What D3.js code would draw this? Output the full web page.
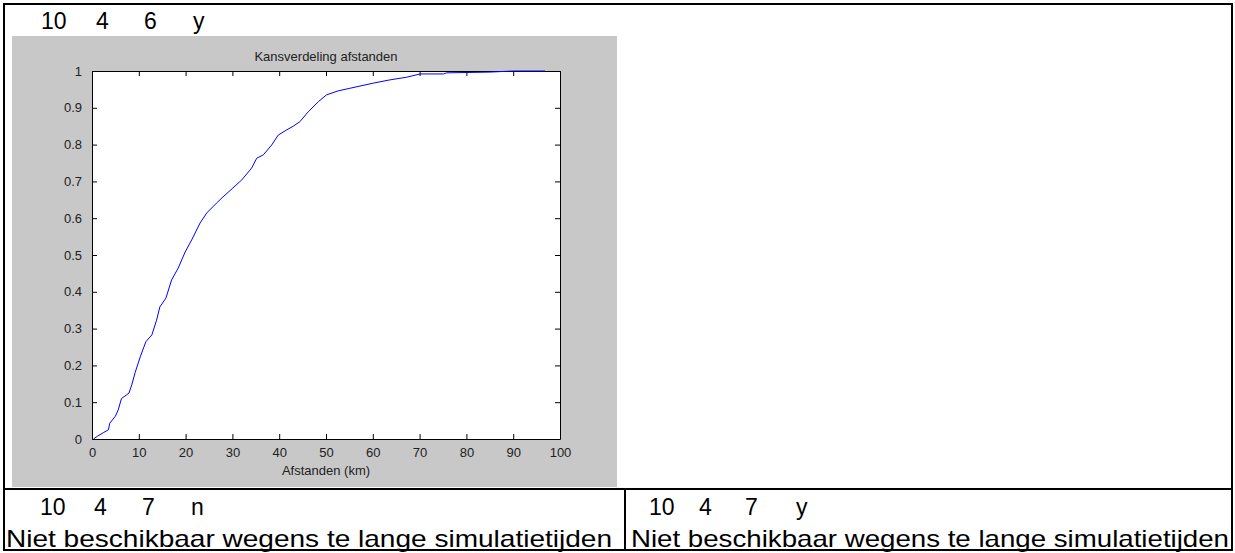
<!DOCTYPE html>
<html>
<head>
  <title>Kansverdeling afstanden</title>
  <style>
    body { margin: 0; background: #fff; }
    svg { display: block; }
  </style>
</head>
<body>
  <div id="chart"></div>

  <script src="https://d3js.org/d3.v7.min.js"></script>
  <script>
    const afstanden = [0.3, 1.2, 2.4, 3.5, 3.8, 5.0, 5.6, 6.3, 7.4, 7.9, 8.5, 9.2, 10.3, 11.5, 12.8, 13.8, 14.5, 15.8, 17.0, 18.4, 19.9,
      21.3, 23.1, 24.5, 26.6, 28.0, 30.1, 32.0, 34.1, 35.2, 36.6, 38.4, 39.8, 41.6, 43.0, 44.4, 46.2, 48.4, 50.1,
      52.6, 55.1, 60.1, 63.7, 67.2, 70.1, 75.1, 75.8, 85.0, 90.0, 96.8];
    const kans = [0, 0.008, 0.017, 0.025, 0.043, 0.062, 0.079, 0.11, 0.12, 0.125, 0.147, 0.18, 0.223, 0.264, 0.283, 0.323, 0.359, 0.383, 0.432, 0.464, 0.508,
      0.541, 0.587, 0.614, 0.641, 0.658, 0.682, 0.704, 0.736, 0.763, 0.772, 0.799, 0.826, 0.84, 0.85, 0.862, 0.889, 0.917, 0.935,
      0.946, 0.953, 0.967, 0.976, 0.983, 0.992, 0.992, 0.995, 0.997, 1.0, 1.0];

    const xTicks = [0, 10, 20, 30, 40, 50, 60, 70, 80, 90, 100];
    const yTicks = [0, 0.1, 0.2, 0.3, 0.4, 0.5, 0.6, 0.7, 0.8, 0.9, 1];

    const titel = "Kansverdeling afstanden";
    const xLabel = "Afstanden (km)";

    // tabelteksten
    const kopBoven = ["10", "4", "6", "y"];
    const kopLinks = ["10", "4", "7", "n"];
    const kopRechts = ["10", "4", "7", "y"];
    const opmerking = "Niet beschikbaar wegens te lange simulatietijden";

    const width = 1235, height = 553;
    const svg = d3.select("#chart").append("svg")
      .attr("width", width).attr("height", height);

    // tabel
    const lijn = (x1, y1, x2, y2) => svg.append("line")
      .attr("x1", x1).attr("y1", y1).attr("x2", x2).attr("y2", y2)
      .attr("stroke", "#000").attr("stroke-width", 2);
    lijn(3, 4, 1233, 4);
    lijn(4, 3, 4, 551);
    lijn(1232, 3, 1232, 551);
    lijn(3, 550, 1233, 550);
    lijn(3, 489, 1233, 489);
    lijn(625, 489, 625, 551);

    const celTekst = (labels, xs, y) => labels.forEach((t, i) => {
      svg.append("text").attr("x", xs[i]).attr("y", y)
        .attr("font-family", "Liberation Sans, Arial, sans-serif")
        .attr("font-size", 23).attr("fill", "#000").text(t);
    });
    celTekst(kopBoven, [41, 96, 144, 193], 29);
    celTekst(kopLinks, [40, 94, 142, 191], 515);
    celTekst(kopRechts, [649, 699, 745, 796], 515);

    [[6, 606], [631, 598]].forEach(([x, w]) => {
      svg.append("text").attr("x", x).attr("y", 547)
        .attr("font-family", "Liberation Sans, Arial, sans-serif")
        .attr("font-size", 24).attr("fill", "#000")
        .attr("textLength", w).attr("lengthAdjust", "spacingAndGlyphs")
        .text(opmerking);
    });

    // figuur (grijze achtergrond)
    svg.append("rect").attr("x", 12).attr("y", 36).attr("width", 605).attr("height", 451)
      .attr("fill", "#c8c8c8");

    const x = d3.scaleLinear().domain([0, 100]).range([92, 560]);
    const y = d3.scaleLinear().domain([0, 1]).range([439, 71]);

    svg.append("rect").attr("x", x(0)).attr("y", y(1))
      .attr("width", x(100) - x(0)).attr("height", y(0) - y(1))
      .attr("fill", "#fff");

    const font = "Liberation Sans, Arial, sans-serif";

    // assen met ticks naar binnen
    const ax = (g) => g.selectAll("text").attr("font-family", font).attr("font-size", 13).attr("fill", "#222");
    svg.append("g").attr("transform", `translate(0,${y(0)})`)
      .call(d3.axisBottom(x).tickValues(xTicks).tickSizeInner(-5).tickSizeOuter(0).tickPadding(9).tickFormat(d3.format("d")))
      .call(ax);
    svg.append("g").attr("transform", `translate(0,${y(1)})`)
      .call(d3.axisTop(x).tickValues(xTicks).tickSizeInner(-5).tickSizeOuter(0).tickFormat(""));
    svg.append("g").attr("transform", `translate(${x(0)},0)`)
      .call(d3.axisLeft(y).tickValues(yTicks).tickSizeInner(-5).tickSizeOuter(0).tickPadding(10).tickFormat(d => d === 0 || d === 1 ? d3.format("d")(d) : d3.format(".1f")(d)))
      .call(ax);
    svg.append("g").attr("transform", `translate(${x(100)},0)`)
      .call(d3.axisRight(y).tickValues(yTicks).tickSizeInner(-5).tickSizeOuter(0).tickFormat(""));
    svg.selectAll(".domain").attr("stroke", "#000");
    svg.selectAll(".tick line").attr("stroke", "#000");

    // curve
    const punten = afstanden.map((d, i) => [d, kans[i]]);
    svg.append("path").datum(punten)
      .attr("fill", "none").attr("stroke", "#0000ff").attr("stroke-width", 1)
      .attr("d", d3.line().x(d => x(d[0])).y(d => y(d[1])));

    svg.append("text").attr("x", (x(0) + x(100)) / 2).attr("y", 61)
      .attr("text-anchor", "middle").attr("font-family", font).attr("font-size", 13)
      .attr("fill", "#222").text(titel);
    svg.append("text").attr("x", (x(0) + x(100)) / 2).attr("y", 475)
      .attr("text-anchor", "middle").attr("font-family", font).attr("font-size", 13)
      .attr("fill", "#222").text(xLabel);
  </script>
</body>
</html>
